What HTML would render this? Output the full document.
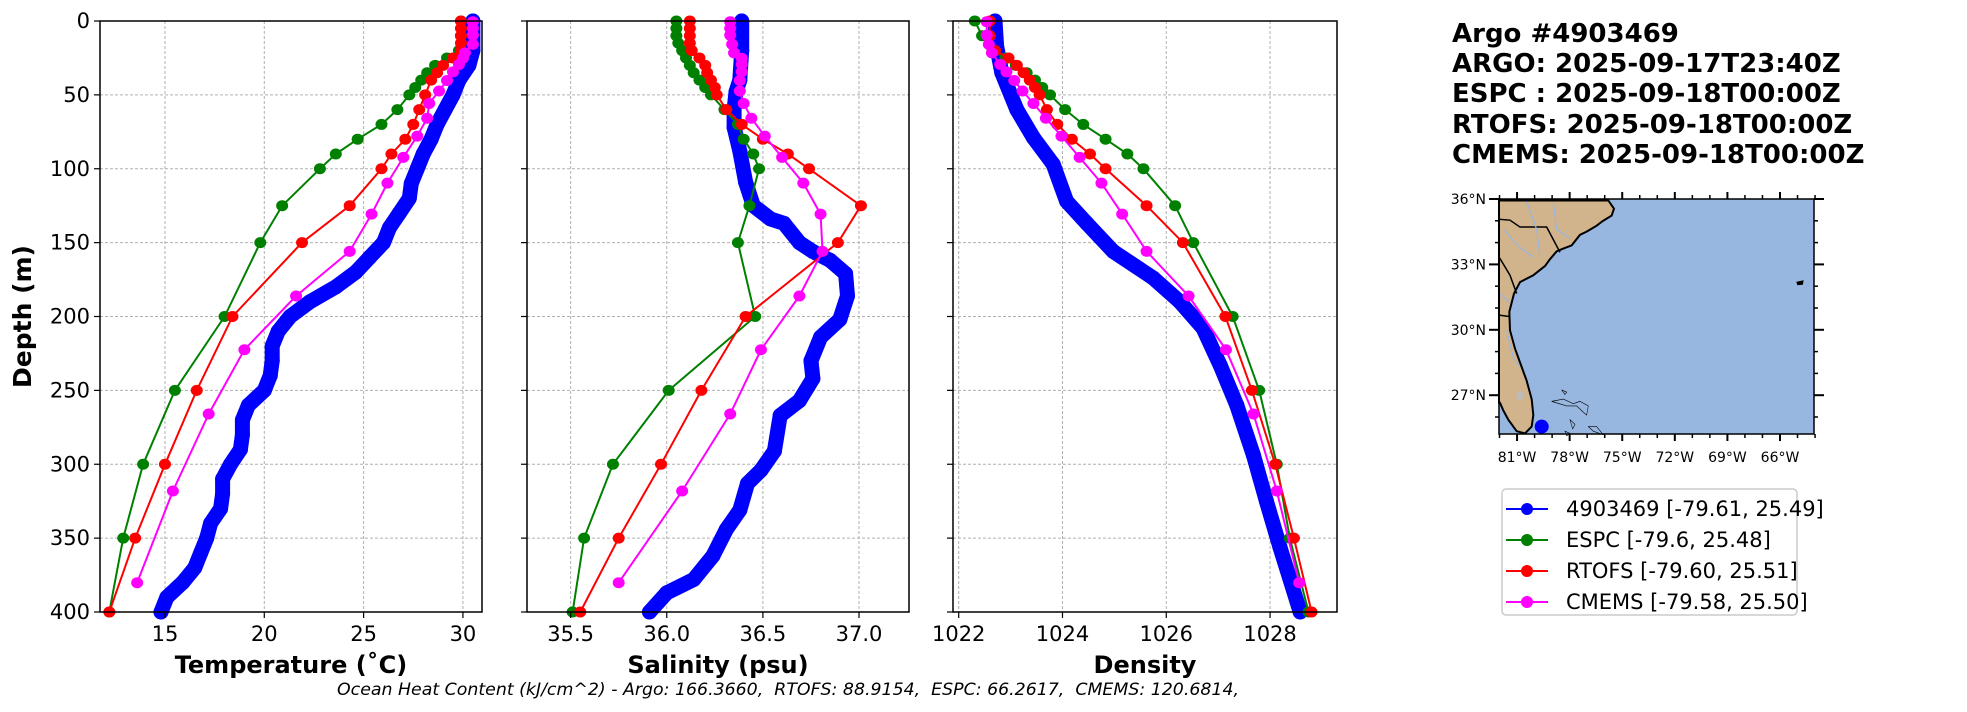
<!DOCTYPE html>
<html><head><meta charset="utf-8"><style>
html,body{margin:0;padding:0;background:#fff;}
svg{display:block;font-family:"DejaVu Sans","Liberation Sans",sans-serif;}
</style></head><body>
<svg id="fig" width="1967" height="712" viewBox="0 0 1967 712">
<g id="panels"></g>
<text x="788" y="695" font-size="17" font-style="italic" text-anchor="middle" textLength="902" lengthAdjust="spacingAndGlyphs" style="white-space:pre" xml:space="preserve">Ocean Heat Content (kJ/cm^2) - Argo: 166.3660,  RTOFS: 88.9154,  ESPC: 66.2617,  CMEMS: 120.6814,</text>
<g font-weight="bold" font-size="26">
<text x="1452" y="42">Argo #4903469</text>
<text x="1452" y="72">ARGO: 2025-09-17T23:40Z</text>
<text x="1452" y="102">ESPC : 2025-09-18T00:00Z</text>
<text x="1452" y="133">RTOFS: 2025-09-18T00:00Z</text>
<text x="1452" y="163">CMEMS: 2025-09-18T00:00Z</text>
</g>
<g id="map">
<rect x="1499" y="199" width="315" height="235" fill="#97b6e0"/>
<g transform="translate(1420,0) scale(0.3333,0.4587)">
<path fill="#d2b48c" stroke="#000" stroke-width="2" vector-effect="non-scaling-stroke" d="M237,437 L565,437 L582,455 L575,470 L548,482 L530,492 L500,505 L480,512 L455,535 L430,542 L410,548 L390,565 L375,580 L340,600 L300,615 L282,640 L268,680 L270,720 L285,760 L300,790 L320,830 L335,870 L340,905 L335,930 L315,945 L290,940 L265,915 L250,895 L240,878 L237,878 Z"/>
<path fill="none" stroke="#000" stroke-width="1.5" vector-effect="non-scaling-stroke" d="M237,478 L270,480 L300,495 L380,495 L420,550 M237,560 L270,600 L290,640 M237,687 L268,690"/>
<path fill="none" stroke="#97b6e0" stroke-width="1.2" vector-effect="non-scaling-stroke" d="M320,440 L350,500 L360,560 M400,440 L410,500 L450,520 M240,640 L270,660 M260,720 L280,780 L300,800 M250,500 L300,540 L340,560"/>
<g fill="none" stroke="#000" stroke-width="1.5" vector-effect="non-scaling-stroke">
<path d="M395,875 L430,870 L460,880 L480,875 L505,885 L500,905 L485,895 L470,885 L440,885 Z"/>
<path d="M425,850 L440,855 L435,860 Z"/>
<path d="M450,915 L465,925 L458,935 Z"/>
<path d="M435,940 L450,945 L440,950 Z"/>
<path d="M505,930 L530,930 L550,948 L520,940 Z"/>
<path d="M1130,615 L1150,612 L1148,620 L1133,621 Z" fill="#000"/>
</g>
<ellipse cx="300" cy="862" rx="10" ry="10" fill="#bbb"/>
</g>
<circle cx="1541.7" cy="426.6" r="7" fill="#0000ff"/>
<rect x="1499" y="199" width="315" height="235" fill="none" stroke="#000" stroke-width="1.5"/>
<g id="mapticks" font-size="14"></g>
</g>
<g>
<rect x="1502" y="489" width="295" height="126" rx="4" fill="#fff" stroke="#ccc" stroke-width="1.5"/>
<g id="legend-items" font-size="21"></g>
</g>
</svg>
<script>
// ---- data (depth m, value) ----
const argoTemp=[[0,30.5],[20,30.5],[30,30.3],[40,29.8],[50,29.5],[60,29.1],[70,28.7],[80,28.4],[90,28.0],[100,27.7],[110,27.4],[120,27.3],[130,26.8],[140,26.3],[150,26.0],[160,25.3],[170,24.6],[180,23.6],[190,22.3],[200,21.3],[210,20.7],[220,20.4],[230,20.4],[240,20.3],[250,20.0],[260,19.2],[270,18.9],[280,18.9],[290,18.8],[300,18.3],[310,17.9],[320,17.9],[330,17.8],[340,17.3],[350,17.1],[360,16.8],[370,16.5],[380,15.9],[390,15.1],[400,14.8]];
const espcTemp=[[0,29.9],[10,29.9],[20,29.8],[25,29.2],[30,28.6],[35,28.2],[40,27.9],[45,27.6],[50,27.3],[60,26.7],[70,25.9],[80,24.7],[90,23.6],[100,22.8],[125,20.9],[150,19.8],[200,18.0],[250,15.5],[300,13.9],[350,12.9],[400,12.2]];
const rtofsTemp=[[0,29.9],[5,29.9],[10,29.9],[15,29.9],[20,29.9],[25,29.5],[30,29.0],[35,28.7],[40,28.4],[50,28.1],[60,27.8],[70,27.5],[80,27.1],[90,26.4],[100,25.9],[125,24.3],[150,21.9],[200,18.4],[250,16.6],[300,15.0],[350,13.5],[400,12.2]];
const cmemsTemp=[[0.5,30.5],[5.1,30.5],[9.6,30.5],[15.8,30.5],[21.6,30.1],[25.2,30.0],[29.4,29.8],[34.4,29.5],[40.3,29.2],[47.4,28.8],[55.8,28.3],[65.8,28.2],[77.9,27.7],[92.3,27.0],[109.7,26.2],[130.7,25.4],[155.9,24.3],[186.1,21.6],[222.5,19.0],[266.0,17.2],[318.1,15.4],[380.2,13.6]];
const argoSal=[[0,36.39],[20,36.39],[40,36.38],[48,36.36],[60,36.35],[72,36.35],[88,36.38],[109,36.41],[125,36.45],[134,36.54],[137,36.61],[150,36.69],[156,36.76],[162,36.85],[171,36.93],[186,36.94],[202,36.90],[214,36.80],[230,36.75],[242,36.76],[257,36.69],[267,36.59],[291,36.56],[304,36.49],[313,36.42],[331,36.38],[344,36.31],[362,36.24],[378,36.14],[387,36.00],[400,35.91]];
const espcSal=[[0,36.05],[5,36.05],[10,36.05],[15,36.06],[20,36.08],[25,36.10],[30,36.12],[35,36.14],[40,36.17],[45,36.20],[50,36.23],[60,36.30],[70,36.37],[80,36.40],[90,36.45],[100,36.48],[125,36.43],[150,36.37],[200,36.46],[250,36.01],[300,35.72],[350,35.57],[400,35.51]];
const rtofsSal=[[0,36.12],[5,36.12],[10,36.12],[15,36.12],[20,36.13],[25,36.17],[30,36.20],[35,36.21],[40,36.23],[45,36.25],[50,36.26],[60,36.31],[70,36.39],[80,36.50],[90,36.63],[100,36.74],[125,37.01],[150,36.89],[200,36.41],[250,36.18],[300,35.97],[350,35.75],[400,35.55]];
const cmemsSal=[[0.5,36.33],[5.1,36.33],[9.6,36.33],[15.8,36.34],[21.6,36.35],[25.2,36.39],[29.4,36.39],[34.4,36.39],[40.3,36.38],[47.4,36.38],[55.8,36.40],[65.8,36.44],[77.9,36.51],[92.3,36.60],[109.7,36.71],[130.7,36.80],[155.9,36.81],[186.1,36.69],[222.5,36.49],[266.0,36.33],[318.1,36.08],[380.2,35.75]];
const argoDen=[[0,1022.70],[17,1022.73],[35,1022.83],[60,1023.12],[79,1023.44],[97,1023.82],[122,1024.08],[137,1024.47],[156,1024.98],[174,1025.75],[190,1026.26],[208,1026.71],[233,1027.04],[260,1027.36],[294,1027.68],[325,1027.93],[356,1028.19],[400,1028.58]];
const espcDen=[[0,1022.31],[10,1022.45],[20,1022.65],[25,1022.90],[30,1023.10],[35,1023.31],[40,1023.47],[45,1023.61],[50,1023.76],[60,1024.05],[70,1024.40],[80,1024.83],[90,1025.25],[100,1025.56],[125,1026.17],[150,1026.52],[200,1027.28],[250,1027.79],[300,1028.13],[350,1028.38],[400,1028.74]];
const rtofsDen=[[0,1022.6],[10,1022.6],[20,1022.7],[25,1022.96],[30,1023.12],[35,1023.25],[40,1023.37],[45,1023.47],[50,1023.56],[60,1023.70],[70,1023.90],[80,1024.18],[90,1024.53],[100,1024.83],[125,1025.62],[150,1026.32],[200,1027.14],[250,1027.65],[300,1028.10],[350,1028.46],[400,1028.80]];
const cmemsDen=[[0.5,1022.54],[9.6,1022.54],[15.8,1022.58],[21.6,1022.64],[29.4,1022.80],[34.4,1022.92],[40.3,1023.07],[47.4,1023.23],[55.8,1023.44],[65.8,1023.68],[77.9,1023.98],[92.3,1024.33],[109.7,1024.75],[130.7,1025.15],[155.9,1025.62],[186.1,1026.43],[222.5,1027.15],[266.0,1027.68],[318.1,1028.13],[380.2,1028.56]];
const depthTicks=[0,50,100,150,200,250,300,350,400];
const tempTicks=[15,20,25,30];
const salTicks=[35.5,36.0,36.5,37.0];
const denTicks=[1022,1024,1026,1028];
const legendLabels=["4903469 [-79.61, 25.49]","ESPC [-79.6, 25.48]","RTOFS [-79.60, 25.51]","CMEMS [-79.58, 25.50]"];
const lonTicks=[-81,-78,-75,-72,-69,-66];
const latTicks=[36,33,30,27];

const NS="http://www.w3.org/2000/svg";
function mk(tag,attrs,parent){const e=document.createElementNS(NS,tag);for(const k in attrs)e.setAttribute(k,attrs[k]);if(parent)parent.appendChild(e);return e;}
const Y0=21,Y1=612;
function yScale(d){return Y0+(d/400)*(Y1-Y0);}
const colors=["#0000ff","#008000","#ff0000","#ff00ff"];
const panels=[
 {name:"temperature",x0:100,x1:482,lo:11.73,hi:30.96,ticks:tempTicks,fmt:v=>String(v),label:"Temperature (˚C)",series:[argoTemp,espcTemp,rtofsTemp,cmemsTemp]},
 {name:"salinity",x0:527,x1:909,lo:35.273,hi:37.26,ticks:salTicks,fmt:v=>v.toFixed(1),label:"Salinity (psu)",series:[argoSal,espcSal,rtofsSal,cmemsSal]},
 {name:"density",x0:953,x1:1337,lo:1021.89,hi:1029.29,ticks:denTicks,fmt:v=>String(v),label:"Density",series:[argoDen,espcDen,rtofsDen,cmemsDen]}
];
const root=document.getElementById("panels");
const sNames=["argo","espc","rtofs","cmems"];
panels.forEach((p,pi)=>{
 const g=mk("g",{},root);
 
 
 const xs=v=>p.x0+(v-p.lo)/(p.hi-p.lo)*(p.x1-p.x0);
 const clip=mk("clipPath",{id:"clip"+pi},g);
 mk("rect",{x:p.x0,y:Y0-8,width:p.x1-p.x0,height:Y1-Y0+16},clip);
 p.ticks.forEach(t=>{const l=mk("line",{x1:xs(t),x2:xs(t),y1:Y0,y2:Y1,stroke:"#b0b0b0","stroke-width":1,"stroke-dasharray":"3,2"},g);
  
  });
 depthTicks.forEach(t=>{const l=mk("line",{x1:p.x0,x2:p.x1,y1:yScale(t),y2:yScale(t),stroke:"#b0b0b0","stroke-width":1,"stroke-dasharray":"3,2"},g);
  
  });
 const sg=mk("g",{"clip-path":"url(#clip"+pi+")"},g);
 p.series.forEach((s,si)=>{
  const ser=mk("g",{},sg);
  
  
  const pts=s.map(d=>xs(d[1]).toFixed(1)+","+yScale(d[0]).toFixed(1)).join(" ");
  const isArgo=si===0;
  const line=mk("polyline",{points:pts,fill:"none",stroke:colors[si],"stroke-width":isArgo?15:2,"stroke-linejoin":"round","stroke-linecap":"round"},ser);
  
  
  s.forEach(d=>{const c=mk("ellipse",{cx:xs(d[1]),cy:yScale(d[0]),rx:isArgo?7.5:6,ry:isArgo?7.5:5.5,fill:colors[si]},ser);
   
   });
 });
 const fr=mk("rect",{x:p.x0,y:Y0,width:p.x1-p.x0,height:Y1-Y0,fill:"none",stroke:"#000","stroke-width":1.5},g);
 
 
 p.ticks.forEach(t=>{mk("line",{x1:xs(t),x2:xs(t),y1:Y1,y2:Y1+6,stroke:"#000","stroke-width":1.2},g);
  const tx=mk("text",{x:xs(t),y:Y1+29,"font-size":21,"text-anchor":"middle"},g);tx.textContent=p.fmt(t);
  
  });
 depthTicks.forEach(t=>{mk("line",{x1:p.x0-6,x2:p.x0,y1:yScale(t),y2:yScale(t),stroke:"#000","stroke-width":1.2},g);
  if(pi===0){const tx=mk("text",{x:p.x0-10,y:yScale(t)+7,"font-size":21,"text-anchor":"end"},g);tx.textContent=String(t);
   
   }});
 const xl=mk("text",{x:(p.x0+p.x1)/2,y:Y1+61,"font-size":24,"font-weight":"bold","text-anchor":"middle"},g);
 xl.textContent=p.label;
 
 
 if(pi===0){const yl=mk("text",{x:0,y:0,"font-size":25,"font-weight":"bold","text-anchor":"middle",transform:"translate(31,"+((Y0+Y1)/2)+") rotate(-90)"},g);
  yl.textContent="Depth (m)";
  
  }
});
const mt=document.getElementById("mapticks");
const lonX=l=>1499+(l+82.03)/(17.97)*315;
const latY=l=>199+(36-l)*21.8;
for(let l=-82;l<=-64;l++){const big=(l%3===0);const x=lonX(l);
 mk("line",{x1:x,x2:x,y1:199,y2:199-(big?7:4),stroke:"#000","stroke-width":big?2:1.5},mt);
 mk("line",{x1:x,x2:x,y1:434,y2:434+(big?7:4),stroke:"#000","stroke-width":big?2:1.5},mt);}
for(let l=26;l<=36;l++){const big=(l%3===0);const y=latY(l);
 mk("line",{x1:1499,x2:1499-(big?10:4),y1:y,y2:y,stroke:"#000","stroke-width":big?2:1.5},mt);
 mk("line",{x1:1814,x2:1814+(big?10:4),y1:y,y2:y,stroke:"#000","stroke-width":big?2:1.5},mt);}
lonTicks.forEach(l=>{const t=mk("text",{x:lonX(l),y:462,"text-anchor":"middle"},mt);t.textContent=Math.abs(l)+"°W";
 
 });
latTicks.forEach(l=>{const t=mk("text",{x:1486,y:latY(l)+5,"text-anchor":"end"},mt);t.textContent=l+"°N";
 
 });
const lg=document.getElementById("legend-items");
legendLabels.forEach((s,i)=>{const y=509+i*31;
 const it=mk("g",{},lg);
 
 
 mk("line",{x1:1506,x2:1548,y1:y,y2:y,stroke:colors[i],"stroke-width":2},it);
 mk("circle",{cx:1527,cy:y,r:6,fill:colors[i]},it);
 const t=mk("text",{x:1566,y:y+7},it);t.textContent=s;});
</script>
</body></html>
